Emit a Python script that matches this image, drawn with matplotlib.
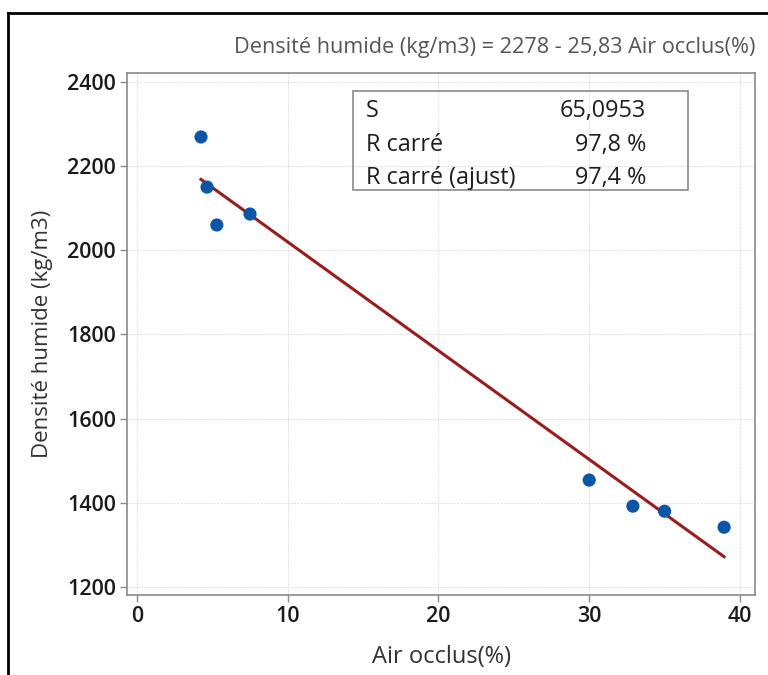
import matplotlib
matplotlib.use("Agg")
import matplotlib.pyplot as plt
from matplotlib.patches import Rectangle

air_occlus = [4.25, 4.65, 5.3, 7.5, 30.0, 32.9, 35.0, 38.95]
densite = [2269, 2150, 2060, 2086, 1454, 1392, 1380, 1342]
intercept = 2278
slope = -25.83
xticks = [0, 10, 20, 30, 40]
yticks = [1200, 1400, 1600, 1800, 2000, 2200, 2400]
stats_labels = ["S", "R carré", "R carré (ajust)"]
stats_values = ["65,0953", "97,8 %", "97,4 %"]
title = "Densité humide (kg/m3) = 2278 - 25,83 Air occlus(%)"

plt.rcParams['font.family'] = ['Open Sans', 'DejaVu Sans']
W, H = 768, 675
fig = plt.figure(figsize=(W/100, H/100), dpi=100)

def fx(px): return px / W
def fy(py): return 1 - py / H

# figure border (left and top visible)
fig.add_artist(plt.Line2D([fx(8), fx(8)], [fy(13), 0], color='black', lw=2, transform=fig.transFigure))
fig.add_artist(plt.Line2D([fx(8), 1.0], [fy(13), fy(13)], color='black', lw=2, transform=fig.transFigure))

ax = fig.add_axes([fx(127), fy(595), fx(755) - fx(127), fy(73) - fy(595)])
ax.set_xlim(-0.66, 41.0)
ax.set_ylim(1181, 2421)

ax.grid(True, color='#e2e2e2', lw=0.8, linestyle=(0, (2, 1)))
ax.set_axisbelow(True)
for s in ax.spines.values():
    s.set_color('#8a8a8a')
    s.set_linewidth(1.2)
ax.tick_params(colors='#8a8a8a', labelcolor='#1a1a1a', labelsize=15.5, length=5, width=1, pad=3)
ax.set_xticks(xticks)
ax.set_yticks(yticks)
for lab in ax.get_xticklabels() + ax.get_yticklabels():
    lab.set_fontweight('semibold')

xmin, xmax = min(air_occlus), max(air_occlus)
ax.plot([xmin, xmax], [intercept + slope * xmin, intercept + slope * xmax], color='#9b1c1c', lw=2.2, zorder=2)
ax.scatter(air_occlus, densite, s=90, color='#0b55a8', zorder=3, edgecolors='none')

ax.set_xlabel("Air occlus(%)", fontsize=17, color='#333333', labelpad=13)
ax.set_ylabel("Densité humide (kg/m3)", fontsize=16, color='#333333', labelpad=10)

fig.text(fx(234), fy(48), title, fontsize=15.6, color='#555555', ha='left', va='center')

# stats box
fig.add_artist(Rectangle((fx(353), fy(190)), fx(688) - fx(353), fy(91) - fy(190),
                         transform=fig.transFigure, fill=False, edgecolor='#8a8a8a', lw=1.2))
rows_y = [111, 145, 178]
for lab, val, py in zip(stats_labels, stats_values, rows_y):
    fig.text(fx(366), fy(py), lab, fontsize=16.8, color='#1e1e1e', ha='left', va='center')
    fig.text(fx(646), fy(py), val, fontsize=16.8, color='#1e1e1e', ha='right', va='center')

fig.savefig("out.png", dpi=100)
